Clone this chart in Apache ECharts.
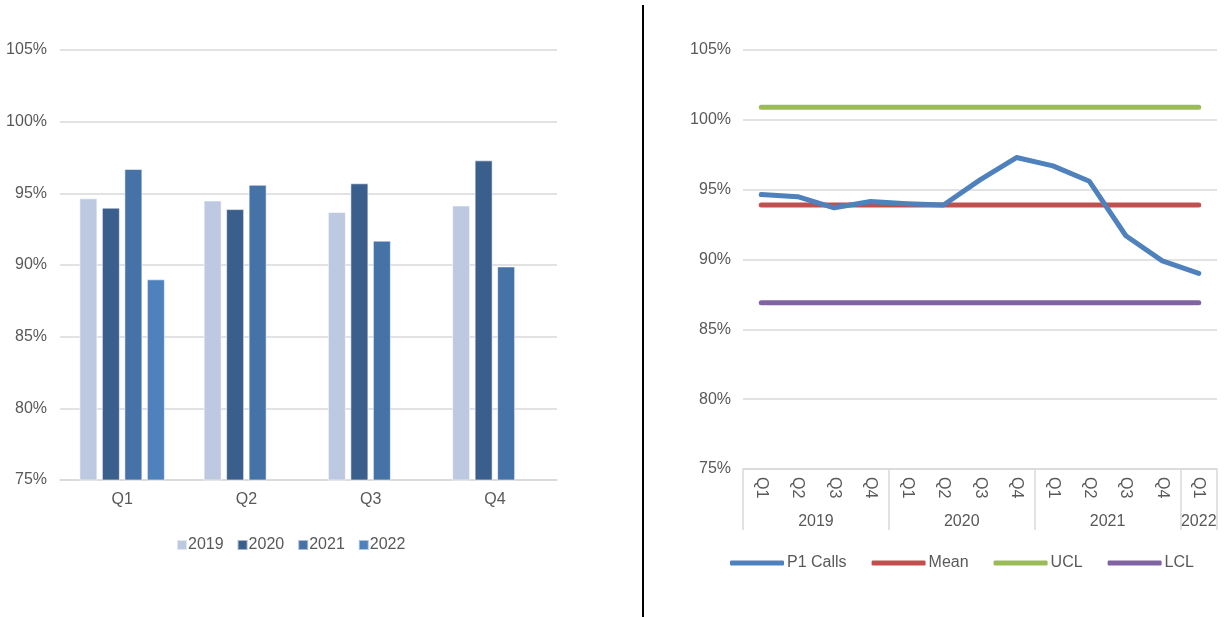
<!DOCTYPE html>
<html>
<head>
<meta charset="utf-8">
<script src="https://cdn.jsdelivr.net/npm/echarts@6/dist/echarts.min.js"></script>
<style>
  html, body { margin: 0; padding: 0; background: #fff; }
  #chart { width: 1225px; height: 617px; }
</style>
</head>
<body>
<div id="chart"></div>
<script>
// Quarterly P1 call performance (percent), one array per year
const quarterNames = ['Q1', 'Q2', 'Q3', 'Q4'];
const yearNames = ['2019', '2020', '2021', '2022'];
const calls2019 = [94.65, 94.5, 93.7, 94.15];
const calls2020 = [94.0, 93.9, 95.7, 97.3];
const calls2021 = [96.7, 95.6, 91.7, 89.9];
const calls2022 = [89.0, null, null, null];

// Control-chart reference lines, one value per quarter
const meanLine = [93.9, 93.9, 93.9, 93.9, 93.9, 93.9, 93.9, 93.9, 93.9, 93.9, 93.9, 93.9, 93.9];
const uclLine = [100.9, 100.9, 100.9, 100.9, 100.9, 100.9, 100.9, 100.9, 100.9, 100.9, 100.9, 100.9, 100.9];
const lclLine = [86.9, 86.9, 86.9, 86.9, 86.9, 86.9, 86.9, 86.9, 86.9, 86.9, 86.9, 86.9, 86.9];

// Value axis range (percent)
const yMin = 75, yMax = 105, yStep = 5;

const yearColors = ['#bcc9e1', '#3b5f8d', '#4673a7', '#4f81bd'];
const lineColors = { p1: '#4f81bd', mean: '#c0504d', ucl: '#9bbb59', lcl: '#8064a2' };

const textColor = '#595959';
const gridColor = '#d9d9d9';
const fontFamily = '"Liberation Sans", Arial, sans-serif';
const fontSize = 16;

const yearly = [calls2019, calls2020, calls2021, calls2022];

// Flatten into a quarter-by-quarter timeline
const timeline = [];
yearly.forEach((vals, i) => {
  vals.forEach((v, j) => {
    if (v != null) timeline.push({ quarter: quarterNames[j], year: yearNames[i], value: v });
  });
});
const n = timeline.length;

// Year grouping for the second-level axis: uses half-quarter slots so that
// each year label sits at the centre of its group and ticks mark the edges.
const groups = [];
timeline.forEach((t, k) => {
  const g = groups[groups.length - 1];
  if (g && g.year === t.year) g.count++;
  else groups.push({ year: t.year, start: k, count: 1 });
});
const yearAxisData = new Array(2 * n + 1).fill('');
const yearAxisTicks = new Set([2 * n]);
groups.forEach(g => {
  yearAxisData[2 * g.start + g.count] = g.year;
  yearAxisTicks.add(2 * g.start);
});

const axisText = { color: textColor, fontFamily, fontSize };

const chart = echarts.init(document.getElementById('chart'), null, { renderer: 'canvas' });

chart.setOption({
  animation: false,
  backgroundColor: '#fff',
  textStyle: { fontFamily },
  grid: [
    { left: 60, top: 50, width: 497, height: 430 },
    { left: 743, top: 50, width: 474, height: 419 }
  ],
  xAxis: [
    {
      gridIndex: 0, type: 'category', data: quarterNames,
      axisLine: { show: true, lineStyle: { color: gridColor, width: 1.5 } },
      axisTick: { show: false },
      axisLabel: Object.assign({ margin: 12 }, axisText)
    },
    {
      gridIndex: 1, type: 'category', position: 'bottom',
      data: timeline.map(t => t.quarter),
      axisLine: { show: true, lineStyle: { color: gridColor, width: 1.5 } },
      axisTick: { show: false },
      axisLabel: Object.assign({ margin: 8, rotate: -90, interval: 0 }, axisText)
    },
    {
      gridIndex: 1, type: 'category', position: 'bottom', boundaryGap: false,
      data: yearAxisData,
      axisLine: { show: false },
      axisTick: {
        show: true, length: 61,
        interval: (idx) => yearAxisTicks.has(idx),
        lineStyle: { color: gridColor, width: 1.5 }
      },
      axisLabel: Object.assign({ margin: 45, interval: (idx, val) => val !== '' }, axisText),
      splitLine: { show: false }
    }
  ],
  yAxis: [
    {
      gridIndex: 0, type: 'value', min: yMin, max: yMax, interval: yStep,
      axisLine: { show: false }, axisTick: { show: false },
      axisLabel: Object.assign({ margin: 13, formatter: '{value}%' }, axisText),
      splitLine: { lineStyle: { color: gridColor, width: 1.5 } }
    },
    {
      gridIndex: 1, type: 'value', min: yMin, max: yMax, interval: yStep,
      axisLine: { show: false }, axisTick: { show: false },
      axisLabel: Object.assign({ margin: 12, formatter: '{value}%' }, axisText),
      splitLine: { lineStyle: { color: gridColor, width: 1.5 } }
    }
  ],
  legend: [
    {
      data: yearNames, left: 176, top: 537, padding: 0,
      icon: 'rect', itemWidth: 10, itemHeight: 10, itemGap: 13,
      textStyle: { color: textColor, fontFamily, fontSize, padding: [0, 0, 0, -4] }
    },
    {
      data: ['P1 Calls', 'Mean', 'UCL', 'LCL'], left: 730, top: 555, padding: 0,
      icon: 'roundRect', itemWidth: 54, itemHeight: 5, itemGap: 25,
      textStyle: { color: textColor, fontFamily, fontSize, padding: [0, 0, 0, -2] }
    }
  ],
  series: [
    ...yearly.map((vals, i) => ({
      name: yearNames[i], type: 'bar', xAxisIndex: 0, yAxisIndex: 0,
      data: vals, barWidth: 18, barGap: '25%',
      itemStyle: { color: yearColors[i], borderColor: 'rgba(255,255,255,0.55)', borderWidth: 1 }
    })),
    {
      name: 'P1 Calls', type: 'line', xAxisIndex: 1, yAxisIndex: 1,
      data: timeline.map(t => t.value), symbol: 'none', z: 5,
      lineStyle: { color: lineColors.p1, width: 5, cap: 'round', join: 'round' },
      itemStyle: { color: lineColors.p1 }
    },
    {
      name: 'Mean', type: 'line', xAxisIndex: 1, yAxisIndex: 1,
      data: meanLine, symbol: 'none', z: 4,
      lineStyle: { color: lineColors.mean, width: 5, cap: 'round' },
      itemStyle: { color: lineColors.mean }
    },
    {
      name: 'UCL', type: 'line', xAxisIndex: 1, yAxisIndex: 1,
      data: uclLine, symbol: 'none', z: 4,
      lineStyle: { color: lineColors.ucl, width: 5, cap: 'round' },
      itemStyle: { color: lineColors.ucl }
    },
    {
      name: 'LCL', type: 'line', xAxisIndex: 1, yAxisIndex: 1,
      data: lclLine, symbol: 'none', z: 4,
      lineStyle: { color: lineColors.lcl, width: 5, cap: 'round' },
      itemStyle: { color: lineColors.lcl }
    }
  ],
  graphic: [
    {
      type: 'line', silent: true,
      shape: { x1: 643, y1: 5, x2: 643, y2: 617 },
      style: { stroke: '#000', lineWidth: 2 }
    }
  ]
});
</script>
</body>
</html>
